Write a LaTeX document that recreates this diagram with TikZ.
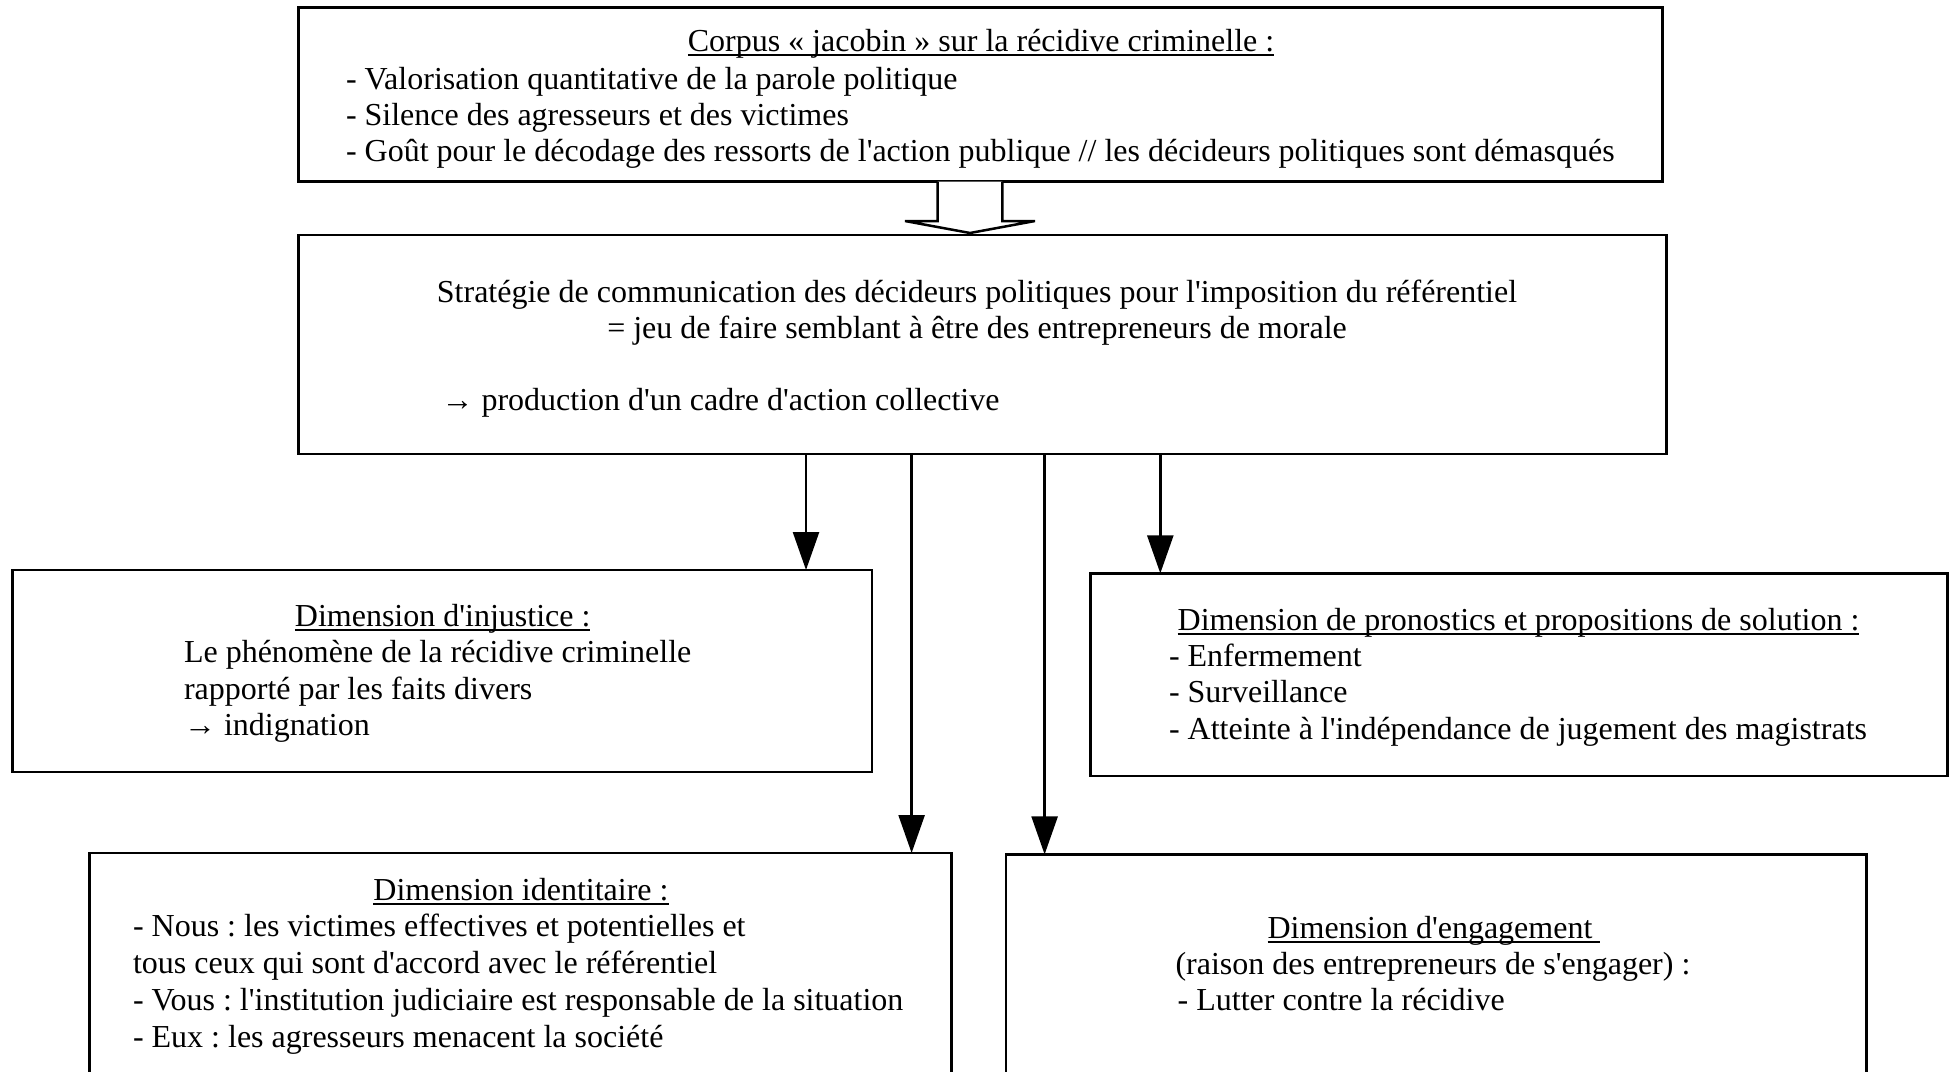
\documentclass[tikz,border=0pt]{standalone}
\usepackage{fontspec}
\setmainfont{Liberation Serif}[Ligatures=TeXOff]
\usetikzlibrary{arrows.meta}
\newcommand{\myul}[1]{\setbox0\hbox{#1}\rlap{\vrule height -2.5pt depth 4.5pt width \wd0}\box0}
\frenchspacing
\begin{document}
\frenchspacing
\begin{tikzpicture}[x=1pt,y=-1pt,
  box/.style={draw, line width=2.5pt, inner sep=0pt, outer sep=0pt},
  txt/.style={inner sep=0pt, outer sep=0pt, font=\fontsize{32}{36.6}\selectfont\frenchspacing},
  lft/.style={txt, anchor=base west},
  ctr/.style={txt, anchor=base},
  arr/.style={line width=2.5pt, -{Triangle[length=38pt,width=26pt]}},
  hollow/.style={line width=2.5pt, fill=white, line join=miter}]
\useasboundingbox (0,0) rectangle (1950,1071);
\clip (0,0) rectangle (1950,1071);

% boxes
\node[box, minimum width=1364pt, minimum height=174pt] (top) at (980.6,94.5) {};
\node[box, minimum width=1368pt, minimum height=219pt] (strat) at (982.5,344.5) {};
\node[box, minimum width=859.4pt, minimum height=202pt] (inj) at (442.1,671) {};
\node[box, minimum width=857pt, minimum height=202.7pt] (sol) at (1519,674.7) {};
\node[box, minimum width=862pt, minimum height=240pt] (ide) at (520.5,973) {};
\node[box, minimum width=860.6pt, minimum height=240pt] (eng) at (1436.3,974.4) {};

% top box text
\node[ctr] (t0) at (981,51) {\myul{Corpus « jacobin » sur la récidive criminelle :}};
\node[lft] (t1) at (346,89.3) {- Valorisation quantitative de la parole politique};
\node[lft] (t2) at (346,125.5) {- Silence des agresseurs et des victimes};
\node[lft] (t3) at (346,161.7) {- Goût pour le décodage des ressorts de l'action publique // les décideurs politiques sont démasqués};

% strategy box text
\node[ctr] (s1) at (977,302) {Stratégie de communication des décideurs politiques pour l'imposition du référentiel};
\node[ctr] (s2) at (977,338.3) {= jeu de faire semblant à être des entrepreneurs de morale};
\node[lft] (s3) at (441.5,410.4) {→ production d'un cadre d'action collective};

% injustice box text
\node[ctr] (i0) at (442.7,626.7) {\myul{Dimension d'injustice :}};
\node[lft] (i1) at (184,662.7) {Le phénomène de la récidive criminelle};
\node[lft] (i2) at (184,699) {rapporté par les faits divers};
\node[lft] (i3) at (184,735.3) {→ indignation};

% solution box text
\node[ctr] (p0) at (1518.5,630.5) {\myul{Dimension de pronostics et propositions de solution :}};
\node[lft] (p1) at (1169,666.6) {- Enfermement};
\node[lft] (p2) at (1169,702.8) {- Surveillance};
\node[lft] (p3) at (1169,739.6) {- Atteinte à l'indépendance de jugement des magistrats};

% identity box text
\node[ctr] (d0) at (521,900.4) {\myul{Dimension identitaire :}};
\node[lft] (d1) at (133,936.8) {- Nous : les victimes effectives et potentielles et};
\node[lft] (d2) at (133,973.6) {tous ceux qui sont d'accord avec le référentiel};
\node[lft] (d3) at (133,1010.4) {- Vous : l'institution judiciaire est responsable de la situation};
\node[lft] (d4) at (133,1047.2) {- Eux : les agresseurs menacent la société};

% engagement box text
\node[ctr] (e0) at (1434,938) {\myul{Dimension d'engagement\ }};
\node[lft] (e1) at (1175.5,974) {(raison des entrepreneurs de s'engager) :};
\node[lft] (e2) at (1177.7,1010.5) {- Lutter contre la récidive};

% hollow block arrow
\coordinate (hl) at (937.7,0);
\coordinate (hr) at (1002.4,0);
\draw[hollow] (top.south -| hl) -- (937.7,221) -- (905,221) -- (970,233) -- (1035,221) -- (1002.4,221) -- (top.south -| hr);

% connectors
\coordinate (c1) at (806,0);
\coordinate (c2) at (911.6,0);
\coordinate (c3) at (1044.6,0);
\coordinate (c4) at (1160.3,0);
\draw[arr] (strat.south -| c1) -- (inj.north -| c1);
\draw[arr] (strat.south -| c2) -- (ide.north -| c2);
\draw[arr] (strat.south -| c3) -- (eng.north -| c3);
\draw[arr] (strat.south -| c4) -- (sol.north -| c4);
\end{tikzpicture}
\end{document}
